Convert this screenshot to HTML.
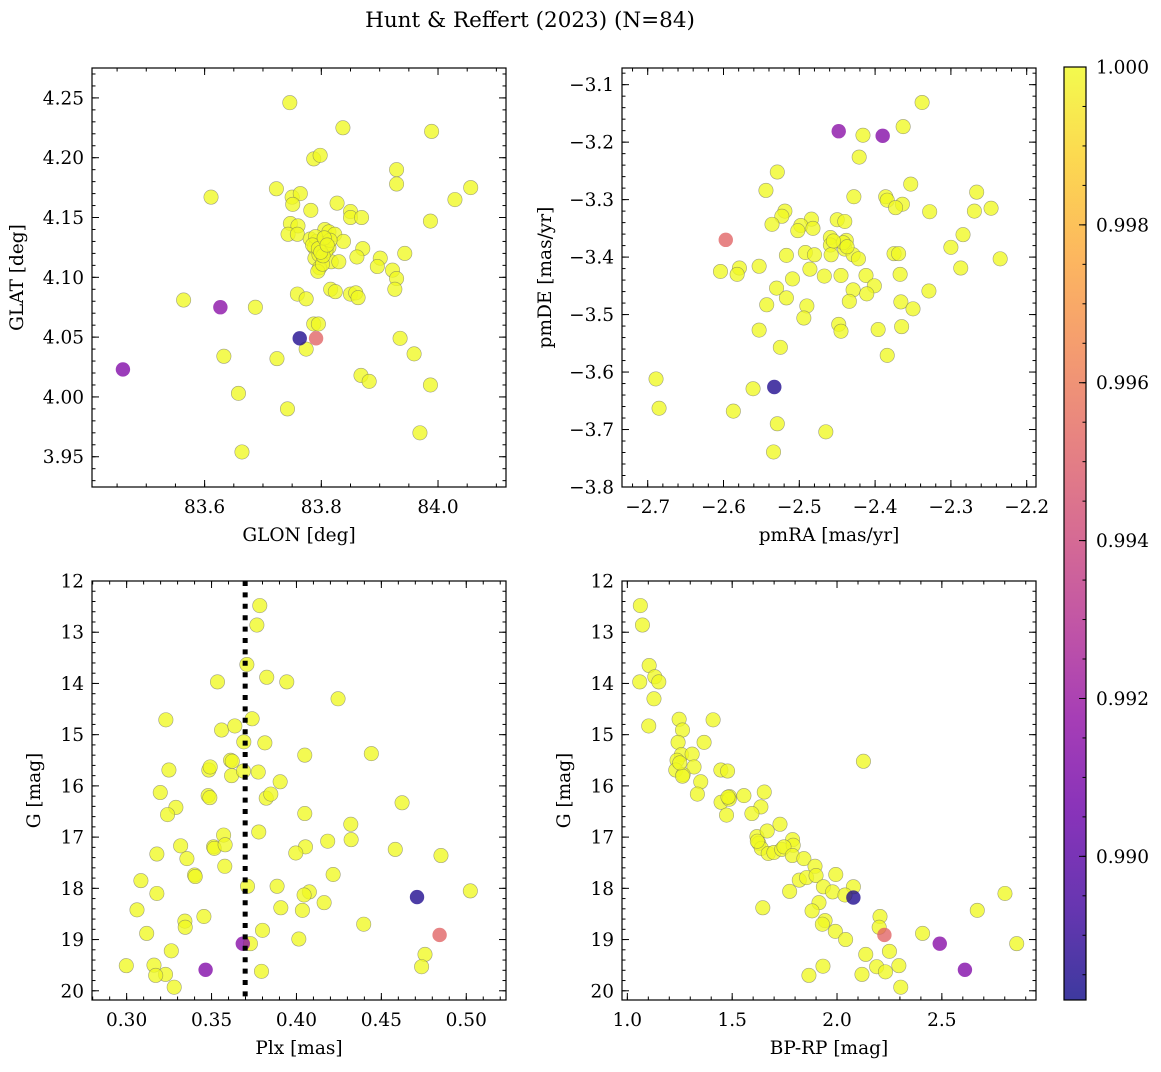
<!DOCTYPE html>
<html><head><meta charset="utf-8">
<style>
html,body{margin:0;padding:0;background:#fff;}
svg text{font-family:"DejaVu Serif","Liberation Serif",serif;fill:#000;}
</style></head>
<body>
<svg id="chart" width="1161" height="1067" viewBox="0 0 1161 1067" xmlns="http://www.w3.org/2000/svg">
<defs>
<linearGradient id="plasma" x1="0" y1="1" x2="0" y2="0">
<stop offset="0" stop-color="#0d0887"/><stop offset="0.1" stop-color="#41049d"/><stop offset="0.2" stop-color="#6a00a8"/><stop offset="0.3" stop-color="#8f0da4"/><stop offset="0.4" stop-color="#b12a90"/><stop offset="0.5" stop-color="#cc4778"/><stop offset="0.6" stop-color="#e16462"/><stop offset="0.7" stop-color="#f2844b"/><stop offset="0.8" stop-color="#fca636"/><stop offset="0.9" stop-color="#fcce25"/><stop offset="1" stop-color="#f0f921"/>
</linearGradient>
</defs>
<text x="530" y="27" font-size="21.5" text-anchor="middle">Hunt &amp; Reffert (2023) (N=84)</text>
</svg>
<script>
// Panel 1: GLON / GLAT
const p1x=[83.746,83.837,83.989,83.787,83.798,83.929,83.929,84.056,84.029,83.611,83.723,83.750,83.764,83.751,83.782,83.827,83.850,83.850,83.869,83.987,83.747,83.760,83.743,83.759,83.781,83.806,83.813,83.823,83.838,83.792,83.788,83.813,83.871,83.943,83.789,83.817,83.830,83.861,83.901,83.896,83.797,83.794,83.922,83.929,83.926,83.759,83.774,83.816,83.824,83.850,83.859,83.863,83.564,83.687,83.787,83.795,83.935,83.959,83.774,83.633,83.724,83.868,83.882,83.987,83.658,83.742,83.969,83.664,83.800,83.808,83.796,83.790,83.785,83.802,83.815,83.795,83.803,83.799,83.805,83.810,83.627,83.763,83.791,83.460];
const p1y=[4.246,4.225,4.222,4.199,4.202,4.190,4.178,4.175,4.165,4.167,4.174,4.167,4.170,4.161,4.156,4.162,4.155,4.150,4.150,4.147,4.145,4.143,4.136,4.136,4.132,4.140,4.138,4.136,4.130,4.130,4.125,4.125,4.124,4.120,4.116,4.113,4.113,4.117,4.116,4.109,4.108,4.105,4.106,4.099,4.090,4.086,4.082,4.090,4.088,4.086,4.087,4.083,4.081,4.075,4.061,4.061,4.049,4.036,4.040,4.034,4.032,4.018,4.013,4.010,4.003,3.990,3.970,3.954,4.128,4.122,4.119,4.134,4.127,4.111,4.131,4.124,4.118,4.121,4.133,4.127,4.075,4.049,4.049,4.023];
const p1c=[];
// Panel 2: pmRA / pmDE
const p2x=[-2.338,-2.363,-2.416,-2.421,-2.529,-2.353,-2.544,-2.428,-2.386,-2.384,-2.266,-2.364,-2.373,-2.328,-2.269,-2.247,-2.519,-2.523,-2.536,-2.484,-2.498,-2.502,-2.482,-2.450,-2.440,-2.284,-2.300,-2.459,-2.459,-2.438,-2.440,-2.458,-2.429,-2.422,-2.517,-2.492,-2.480,-2.375,-2.369,-2.235,-2.604,-2.579,-2.582,-2.553,-2.486,-2.509,-2.467,-2.445,-2.412,-2.401,-2.367,-2.287,-2.530,-2.429,-2.411,-2.329,-2.517,-2.543,-2.490,-2.434,-2.366,-2.350,-2.494,-2.448,-2.445,-2.553,-2.396,-2.365,-2.525,-2.384,-2.689,-2.561,-2.685,-2.587,-2.529,-2.465,-2.534,-2.442,-2.437,-2.455,-2.448,-2.390,-2.597,-2.533];
const p2y=[-3.131,-3.173,-3.188,-3.226,-3.252,-3.273,-3.284,-3.295,-3.295,-3.301,-3.287,-3.308,-3.314,-3.321,-3.320,-3.315,-3.320,-3.329,-3.343,-3.334,-3.345,-3.354,-3.350,-3.335,-3.338,-3.361,-3.383,-3.366,-3.379,-3.371,-3.386,-3.396,-3.396,-3.403,-3.397,-3.392,-3.396,-3.394,-3.394,-3.403,-3.425,-3.419,-3.430,-3.416,-3.421,-3.438,-3.433,-3.432,-3.432,-3.450,-3.430,-3.419,-3.454,-3.457,-3.464,-3.459,-3.471,-3.483,-3.485,-3.477,-3.478,-3.490,-3.506,-3.517,-3.529,-3.527,-3.526,-3.521,-3.557,-3.571,-3.612,-3.629,-3.663,-3.668,-3.690,-3.704,-3.739,-3.375,-3.382,-3.372,-3.181,-3.189,-3.370,-3.626];
const p2c=[];
// Panel 3: Plx / G
const p3x=[0.3784,0.3767,0.3708,0.3825,0.3535,0.3943,0.4245,0.3231,0.3739,0.3559,0.3637,0.3690,0.3814,0.4049,0.4441,0.3612,0.3622,0.3249,0.3484,0.3492,0.3618,0.3688,0.3775,0.3904,0.3198,0.3480,0.3490,0.3822,0.3849,0.4622,0.3290,0.3241,0.4049,0.4320,0.3778,0.3571,0.4322,0.4184,0.3318,0.3512,0.3516,0.3580,0.4053,0.4582,0.3178,0.3996,0.4851,0.3355,0.3578,0.3400,0.3404,0.4216,0.3084,0.3712,0.3886,0.4076,0.4045,0.5024,0.3178,0.4163,0.3061,0.3908,0.4035,0.3455,0.3343,0.3345,0.4396,0.3800,0.3118,0.4014,0.3729,0.3263,0.4757,0.2998,0.3161,0.4737,0.3229,0.3171,0.3794,0.3280,0.4710,0.4843,0.3684,0.3465];
const p3y=[12.48,12.86,13.63,13.88,13.97,13.97,14.30,14.71,14.69,14.91,14.83,15.14,15.16,15.40,15.37,15.50,15.52,15.69,15.69,15.63,15.80,15.71,15.73,15.92,16.13,16.19,16.23,16.24,16.16,16.33,16.42,16.56,16.54,16.75,16.90,16.96,17.05,17.08,17.17,17.19,17.22,17.15,17.19,17.24,17.33,17.31,17.36,17.42,17.57,17.74,17.77,17.73,17.85,17.96,17.96,18.07,18.13,18.05,18.10,18.28,18.42,18.38,18.43,18.55,18.64,18.76,18.70,18.82,18.88,18.99,19.08,19.22,19.29,19.51,19.50,19.53,19.68,19.70,19.62,19.93,18.17,18.91,19.08,19.59];
const p3c=[];
// Panel 4: BP-RP / G
const p4x=[1.062,1.072,1.104,1.059,1.131,1.150,1.127,1.102,1.247,1.409,1.263,1.242,1.366,1.258,1.309,1.237,1.231,1.318,1.266,1.263,2.126,1.446,1.478,1.350,1.334,1.653,1.556,1.487,1.447,1.486,1.637,1.594,1.473,1.728,1.618,1.667,1.627,1.639,1.672,1.699,1.736,1.788,1.791,1.747,1.787,1.842,1.895,1.994,1.820,1.855,1.900,1.935,1.979,2.078,2.038,1.774,1.914,1.646,1.881,1.943,1.930,2.205,2.201,1.992,2.408,2.041,2.669,2.801,2.857,2.250,2.137,1.933,2.189,2.295,2.231,1.866,2.119,2.304,1.620,1.250,1.480,2.078,2.226,2.490,2.610];
const p4y=[12.48,12.86,13.65,13.97,13.87,13.97,14.30,14.83,14.70,14.71,14.91,15.15,15.15,15.39,15.38,15.50,15.69,15.63,15.78,15.81,15.52,15.69,15.71,15.92,16.16,16.12,16.19,16.21,16.32,16.26,16.41,16.54,16.57,16.75,16.99,16.88,17.12,17.22,17.32,17.30,17.24,17.05,17.16,17.19,17.36,17.42,17.57,17.73,17.84,17.79,17.75,17.97,18.07,17.97,18.13,18.06,18.28,18.38,18.44,18.63,18.70,18.55,18.76,18.84,18.88,19.00,18.43,18.10,19.08,19.23,19.29,19.52,19.53,19.51,19.63,19.70,19.68,19.93,17.08,15.55,16.22,18.18,18.91,19.08,19.59];
const p4c=[];
// membership probabilities of the four non-unity members (last four entries of every panel)
const specialProb=[0.9915,0.9885,0.9952,0.9912];
const specialProb2=[0.9915,0.9913,0.9952,0.9885];
const specialProb4=[0.9885,0.9952,0.9914,0.9912];
const cbTicks=[0.990,0.992,0.994,0.996,0.998,1.000];

function fill(arr,n,sp){for(let i=0;i<n-4;i++)arr.push(1.0);for(const v of sp)arr.push(v);}
fill(p1c,p1x.length,specialProb);
fill(p2c,p2x.length,specialProb2);
fill(p3c,p3x.length,specialProb4);
fill(p4c,p4x.length,specialProb4);

const NS='http://www.w3.org/2000/svg';
const svg=document.getElementById('chart');
function el(t,a,p){const e=document.createElementNS(NS,t);for(const k in a)e.setAttribute(k,a[k]);(p||svg).appendChild(e);return e;}

const CMIN=0.98818,CMAX=1.0;
const FS=18.5;
const stops=[[13,8,135],[65,4,157],[106,0,168],[143,13,164],[177,42,144],[204,71,120],[225,100,98],[242,132,75],[252,166,54],[252,206,37],[240,249,33]];
function plasma(v){let t=(v-CMIN)/(CMAX-CMIN);t=Math.max(0,Math.min(1,t))*10;const i=Math.min(9,Math.floor(t)),f=t-i;const a=stops[i],b=stops[i+1];return 'rgb('+a.map((c,k)=>Math.round(c+(b[k]-c)*f)).join(',')+')';}
function fmt(v,d){const s=Math.abs(v).toFixed(d);return (v<-1e-9?'\u2212':'')+s;}

function panel(cfg){
  const g=el('g',{});
  
  
  const L=cfg.L,T=cfg.T,R=cfg.R,B=cfg.B;
  const sx=v=>L+(v-cfg.x0)/(cfg.x1-cfg.x0)*(R-L);
  const sy=v=>T+(v-cfg.yT)/(cfg.yB-cfg.yT)*(B-T);
  const tg=el('g',{stroke:'#000','stroke-width':1},g);
  function ticks(lo,hi,step,fn){const a=Math.ceil(lo/step-1e-6),b=Math.floor(hi/step+1e-6);for(let k=a;k<=b;k++)fn(k*step);}
  const xlo=Math.min(cfg.x0,cfg.x1),xhi=Math.max(cfg.x0,cfg.x1),ylo=Math.min(cfg.yT,cfg.yB),yhi=Math.max(cfg.yT,cfg.yB);
  ticks(xlo,xhi,cfg.xmin,v=>{const x=sx(v);el('line',{x1:x,x2:x,y1:B,y2:B-3.5},tg);el('line',{x1:x,x2:x,y1:T,y2:T+3.5},tg);});
  ticks(ylo,yhi,cfg.ymin,v=>{const y=sy(v);el('line',{x1:L,x2:L+3.5,y1:y,y2:y},tg);el('line',{x1:R,x2:R-3.5,y1:y,y2:y},tg);});
  ticks(xlo,xhi,cfg.xmaj,v=>{const x=sx(v);el('line',{x1:x,x2:x,y1:B,y2:B-7},tg);el('line',{x1:x,x2:x,y1:T,y2:T+7},tg);
    const t=el('text',{x:x,y:B+26,'font-size':FS,'text-anchor':'middle'},g);t.textContent=fmt(v,cfg.xd);
    });
  ticks(ylo,yhi,cfg.ymaj,v=>{const y=sy(v);el('line',{x1:L,x2:L+7,y1:y,y2:y},tg);el('line',{x1:R,x2:R-7,y1:y,y2:y},tg);
    const t=el('text',{x:L-8,y:y+6.5,'font-size':FS,'text-anchor':'end'},g);t.textContent=fmt(v,cfg.yd);
    });
  const pg=el('g',{},g);
  for(let i=0;i<cfg.xs.length;i++){
    const c=el('circle',{cx:sx(cfg.xs[i]),cy:sy(cfg.ys[i]),r:7.2,fill:plasma(cfg.cs[i]),'fill-opacity':0.78,stroke:'#666','stroke-opacity':cfg.cs[i]>0.999?0.6:0,'stroke-width':0.6},pg);
    
    
  }
  if(cfg.vline!==undefined){const x=sx(cfg.vline);const l=el('line',{x1:x,x2:x,y1:T,y2:B,stroke:'#000','stroke-width':5,'stroke-dasharray':'5,6.4'},g);
    }
  const fr=el('rect',{x:L,y:T,width:R-L,height:B-T,fill:'none',stroke:'#000','stroke-width':1.2},g);
  
  const xl=el('text',{x:(L+R)/2,y:B+54,'font-size':FS,'text-anchor':'middle'},g);xl.textContent=cfg.xlab;
  
  const yl=el('text',{x:0,y:0,'font-size':FS,'text-anchor':'middle',transform:'translate('+cfg.ylx+','+(T+B)/2+') rotate(-90)'},g);yl.textContent=cfg.ylab;
  
}

panel({name:'glon-glat-panel',L:92,T:68,R:506,B:487,x0:83.407,x1:84.1165,yT:4.275,yB:3.9247,xmaj:0.2,xmin:0.05,ymaj:0.05,ymin:0.01,xd:1,yd:2,xs:p1x,ys:p1y,cs:p1c,xlab:'GLON [deg]',ylab:'GLAT [deg]',ylx:23});
panel({name:'proper-motion-panel',L:622,T:68,R:1036,B:487,x0:-2.7-25.7/758,x1:-2.7+388.3/758,yT:-3.071,yB:-3.8,xmaj:0.1,xmin:0.02,ymaj:0.1,ymin:0.02,xd:1,yd:1,xs:p2x,ys:p2y,cs:p2c,xlab:'pmRA [mas/yr]',ylab:'pmDE [mas/yr]',ylx:551});
panel({name:'parallax-magnitude-panel',L:92,T:581,R:506,B:1000,x0:0.2796,x1:0.5234,yT:12,yB:20.18,xmaj:0.05,xmin:0.01,ymaj:1,ymin:0.2,xd:2,yd:0,xs:p3x,ys:p3y,cs:p3c,xlab:'Plx [mas]',ylab:'G [mag]',ylx:40,vline:0.3698});
panel({name:'color-magnitude-panel',L:622,T:581,R:1036,B:1000,x0:0.9745,x1:2.949,yT:12,yB:20.18,xmaj:0.5,xmin:0.1,ymaj:1,ymin:0.2,xd:1,yd:0,xs:p4x,ys:p4y,cs:p4c,xlab:'BP-RP [mag]',ylab:'G [mag]',ylx:570});

(function(){
  const L=1064,R=1086,T=67,B=1000;
  const g=el('g',{});
  
  
  el('rect',{x:L,y:T,width:R-L,height:B-T,fill:'url(#plasma)','fill-opacity':0.8},g);
  const sy=v=>B-(v-CMIN)/(CMAX-CMIN)*(B-T);
  for(let k=Math.ceil(CMIN/0.0005);k<=Math.floor(CMAX/0.0005+1e-6);k++){const y=sy(k*0.0005);el('line',{x1:R,x2:R-3.5,y1:y,y2:y,stroke:'#000'},g);}
  for(const v of cbTicks){const y=sy(v);el('line',{x1:R,x2:R-7,y1:y,y2:y,stroke:'#000'},g);
    const t=el('text',{x:1096,y:y+6.5,'font-size':FS},g);t.textContent=v.toFixed(3);
    }
  el('rect',{x:L,y:T,width:R-L,height:B-T,fill:'none',stroke:'#000','stroke-width':1.2},g);
})();
</script>
</body></html>
